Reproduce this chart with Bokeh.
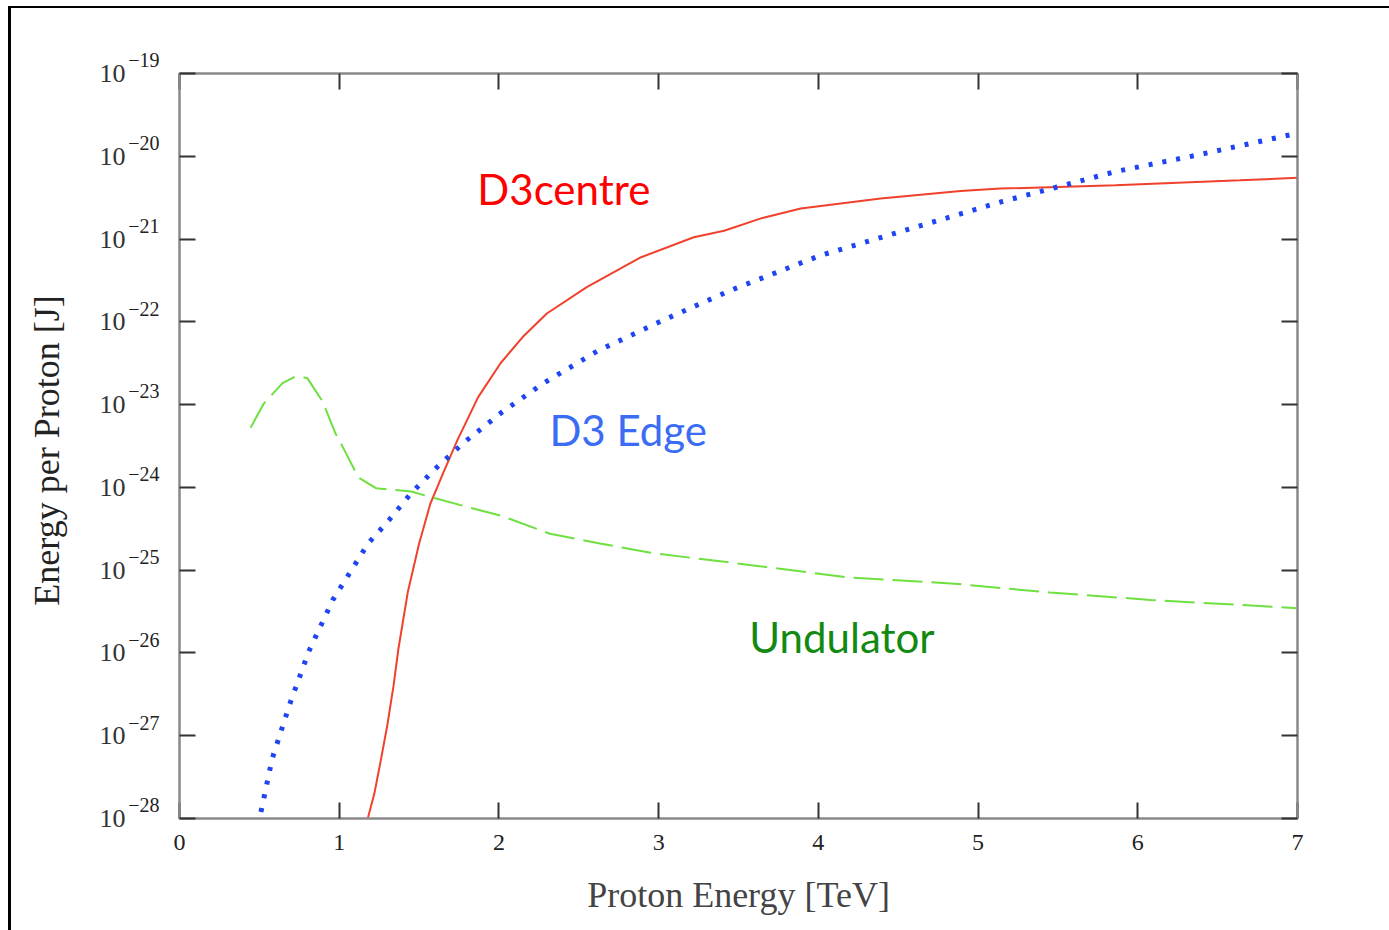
from bokeh.plotting import figure
from bokeh.models import (LinearAxis, LogAxis, FixedTicker, Label,
                          CustomJSTickFormatter, InlineStyleSheet, Range1d)
from bokeh.embed import file_html
from bokeh.resources import INLINE

# Proton energy [TeV] and energy radiated per proton [J]
d3centre_x = [1.18, 1.22, 1.26, 1.30, 1.34, 1.37, 1.43, 1.50, 1.57, 1.65, 1.74,
              1.87, 2.01, 2.15, 2.30, 2.55, 2.89, 3.22, 3.41, 3.65, 3.89, 4.39,
              4.89, 5.14, 5.86, 6.64, 7.00]
d3centre_y = [1.02e-28, 2.0e-28, 5.0e-28, 1.3e-27, 4.0e-27, 1.1e-26, 5.5e-26,
              2.09e-25, 6.3e-25, 1.48e-24, 3.72e-24, 1.23e-23, 3.16e-23,
              6.6e-23, 1.26e-22, 2.63e-22, 6.03e-22, 1.05e-21, 1.26e-21,
              1.80e-21, 2.34e-21, 3.09e-21, 3.80e-21, 4.07e-21, 4.47e-21,
              5.13e-21, 5.50e-21]

d3edge_x = [0.51, 0.58, 0.69, 0.81, 0.96, 1.18, 1.31, 1.45, 1.61, 1.78, 2.02,
            2.28, 2.62, 3.03, 3.45, 4.01, 4.64, 5.14, 5.87, 6.39, 7.00]
d3edge_y = [1.20e-28, 5.25e-28, 2.40e-27, 1.05e-26, 4.37e-26, 2.09e-25,
            3.98e-25, 8.51e-25, 1.74e-24, 3.47e-24, 8.13e-24, 1.82e-23,
            4.47e-23, 1.05e-22, 2.40e-22, 6.31e-22, 1.45e-21, 2.80e-21,
            6.60e-21, 1.05e-20, 1.90e-20]

undulator_x = [0.445, 0.526, 0.645, 0.726, 0.80, 0.895, 0.977, 1.03, 1.12,
               1.23, 1.45, 1.58, 1.79, 2.01, 2.32, 2.64, 2.95, 3.58, 4.20,
               4.83, 5.45, 6.08, 7.00]
undulator_y = [5.25e-24, 1.02e-23, 1.82e-23, 2.19e-23, 2.09e-23, 1.10e-23,
               4.47e-24, 2.88e-24, 1.32e-24, 9.77e-25, 8.91e-25, 7.59e-25,
               5.89e-25, 4.57e-25, 2.75e-25, 2.09e-25, 1.62e-25, 1.15e-25,
               8.13e-26, 6.92e-26, 5.37e-26, 4.37e-26, 3.47e-26]

x_ticks = [0, 1, 2, 3, 4, 5, 6, 7]
y_exponents = [-19, -20, -21, -22, -23, -24, -25, -26, -27, -28]
y_ticks = [10.0 ** e for e in y_exponents]
y_tick_base = "10"
y_tick_exponent_labels = ["\u2212" + str(-e) for e in y_exponents]

series_names = ["D3centre", "D3 Edge", "Undulator"]
series_label_x = [1.865, 2.316, 3.568]
series_label_y = [4.07e-21, 4.9e-24, 1.55e-26]

SERIF = "Liberation Serif"
AXIS_GREY = "#8a8a8a"
TICK_DARK = "#333333"

p = figure(
    frame_width=1118, frame_height=745,
    x_range=Range1d(0, 7), y_range=Range1d(1e-28, 1e-19),
    y_axis_type="log",
    x_axis_location=None, y_axis_location=None,
    output_backend="svg", toolbar_location=None,
    min_border_left=168, min_border_top=65,
    min_border_right=92, min_border_bottom=112,
    background_fill_color="white", border_fill_color="white",
)
p.margin = (6, 0, 0, 8)
p.stylesheets = [InlineStyleSheet(css=":host { border-left: 3px solid #000; border-top: 2px solid #000; }")]
p.grid.visible = False
p.outline_line_color = AXIS_GREY
p.outline_line_width = 2

blank = CustomJSTickFormatter(code="return ''")


def style_axis(ax):
    ax.axis_line_color = AXIS_GREY
    ax.axis_line_width = 2
    ax.major_tick_line_color = TICK_DARK
    ax.major_tick_line_width = 2
    ax.major_tick_in = 16
    ax.major_tick_out = 0
    ax.minor_tick_line_color = None


def bare_axis(ax):
    ax.axis_line_color = None
    ax.major_tick_line_color = None
    ax.minor_tick_line_color = None
    ax.major_tick_in = 0
    ax.major_tick_out = 0


# bottom axis with labels
xb = LinearAxis(ticker=FixedTicker(ticks=x_ticks), axis_label="Proton Energy [TeV]")
style_axis(xb)
xb.major_label_text_font = SERIF
xb.major_label_text_font_size = "24px"
xb.major_label_text_color = "#222222"
xb.major_label_standoff = 16
xb.axis_label_text_font = SERIF
xb.axis_label_text_font_size = "36px"
xb.axis_label_text_font_style = "normal"
xb.axis_label_text_color = "#444444"
xb.axis_label_standoff = 22
p.add_layout(xb, "below")

# mirrored top axis, ticks only
xt = LinearAxis(ticker=FixedTicker(ticks=x_ticks), formatter=blank)
style_axis(xt)
p.add_layout(xt, "above")

# left side: tick axis, then raised exponents (top line of a two-line label),
# then the base "10"
yl_ticks = LogAxis(ticker=FixedTicker(ticks=y_ticks), formatter=blank)
style_axis(yl_ticks)
yl_ticks.major_label_standoff = 0
p.add_layout(yl_ticks, "left")

yl_exp = LogAxis(ticker=FixedTicker(ticks=y_ticks))
bare_axis(yl_exp)
yl_exp.major_label_overrides = {v: s + "\n\u00a0" for v, s in zip(y_ticks, y_tick_exponent_labels)}
yl_exp.major_label_text_font = SERIF
yl_exp.major_label_text_font_size = "20px"
yl_exp.major_label_text_color = "#222222"
yl_exp.major_label_standoff = 20
p.add_layout(yl_exp, "left")

yl_base = LogAxis(ticker=FixedTicker(ticks=y_ticks), axis_label="Energy per Proton  [J]")
bare_axis(yl_base)
yl_base.major_label_overrides = {v: y_tick_base for v in y_ticks}
yl_base.major_label_text_font = SERIF
yl_base.major_label_text_font_size = "26px"
yl_base.major_label_text_color = "#333333"
yl_base.major_label_standoff = 0
yl_base.axis_label_text_font = SERIF
yl_base.axis_label_text_font_size = "36px"
yl_base.axis_label_text_font_style = "normal"
yl_base.axis_label_text_color = "#222222"
yl_base.axis_label_standoff = 30
p.add_layout(yl_base, "left")

# mirrored right axis, ticks only
yr = LogAxis(ticker=FixedTicker(ticks=y_ticks), formatter=blank)
style_axis(yr)
p.add_layout(yr, "right")

# curves
p.line(d3centre_x, d3centre_y, line_color="#f0412c", line_width=2)
p.line(d3edge_x, d3edge_y, line_color="#1f44f2", line_width=5,
       line_dash="4 10", line_cap="butt")
p.line(undulator_x, undulator_y, line_color="#6ee040", line_width=2,
       line_dash="30 9")

label_colors = ["#ff0000", "#3a6cf4", "#128a12"]
for name, lx, ly, c in zip(series_names, series_label_x, series_label_y, label_colors):
    p.add_layout(Label(x=lx, y=ly, text=name, text_align="left",
                       text_baseline="middle", text_font="Lato",
                       text_font_size="42px", text_color=c))

open("out.html", "w").write(file_html(p, INLINE))
